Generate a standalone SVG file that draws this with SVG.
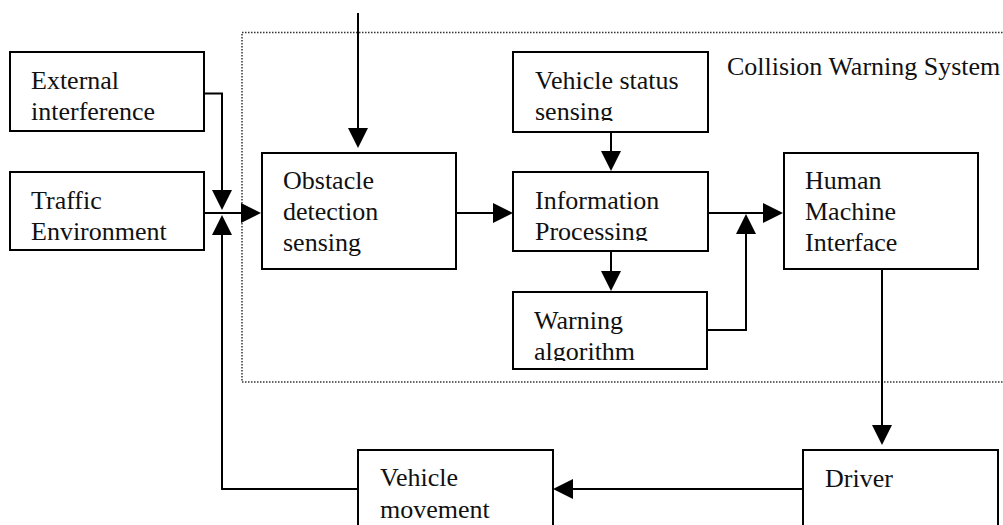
<svg xmlns="http://www.w3.org/2000/svg" width="1003" height="525" viewBox="0 0 1003 525">
<style>
.box{fill:#fff;stroke:#000;stroke-width:2}
.lbl{font-family:"Liberation Serif","Times New Roman",serif;font-size:26px;fill:#111}
.con{fill:none;stroke:#000;stroke-width:2}
.frame{fill:none;stroke:#333;stroke-width:1.5;stroke-dasharray:1.5 1.5}
</style>
<defs>
<marker id="arr" viewBox="0 0 20 20" refX="10" refY="10" markerWidth="20" markerHeight="20" markerUnits="userSpaceOnUse" orient="auto">
<path d="M0 0 L20 10 L0 20 Z" fill="#000"/>
</marker>
<clipPath id="clipVS"><rect x="513" y="52" width="195" height="69"/></clipPath>
<clipPath id="clipIP"><rect x="513" y="172" width="195" height="69"/></clipPath>
<clipPath id="clipWA"><rect x="513" y="292" width="194" height="69"/></clipPath>
</defs>
<rect width="1003" height="525" fill="#fff"/>
<g id="cws-frame">
<rect class="frame" x="242" y="32.5" width="780" height="349.5"/>
<text class="lbl" x="727" y="75">Collision Warning System</text>
</g>
<g id="connectors">
<path class="con" d="M358 13 V138" marker-end="url(#arr)"/>
<path class="con" d="M204 93.5 H222 V200" marker-end="url(#arr)"/>
<path class="con" d="M204 213 H251" marker-end="url(#arr)"/>
<path class="con" d="M358 489 H222 V225" marker-end="url(#arr)"/>
<path class="con" d="M456 213 H503" marker-end="url(#arr)"/>
<path class="con" d="M611 132 V161" marker-end="url(#arr)"/>
<path class="con" d="M611 251 V281" marker-end="url(#arr)"/>
<path class="con" d="M708 213 H773" marker-end="url(#arr)"/>
<path class="con" d="M707 330 H746 V224" marker-end="url(#arr)"/>
<path class="con" d="M882 270 V435" marker-end="url(#arr)"/>
<path class="con" d="M803 489 H563" marker-end="url(#arr)"/>
</g>
<g id="external-interference">
<rect class="box" x="10" y="52" width="194" height="79"/>
<text class="lbl" x="31" y="89">External</text>
<text class="lbl" x="31" y="120">interference</text>
</g>
<g id="traffic-environment">
<rect class="box" x="10" y="172" width="194" height="78"/>
<text class="lbl" x="31" y="209">Traffic</text>
<text class="lbl" x="31" y="240">Environment</text>
</g>
<g id="obstacle-detection">
<rect class="box" x="262" y="153" width="194" height="116"/>
<text class="lbl" x="283" y="189">Obstacle</text>
<text class="lbl" x="283" y="220">detection</text>
<text class="lbl" x="283" y="251">sensing</text>
</g>
<g id="vehicle-status">
<rect class="box" x="513" y="52" width="195" height="80"/>
<g clip-path="url(#clipVS)">
<text class="lbl" x="535" y="89">Vehicle status</text>
<text class="lbl" x="535" y="120">sensing</text>
</g>
</g>
<g id="information-processing">
<rect class="box" x="513" y="172" width="195" height="79"/>
<g clip-path="url(#clipIP)">
<text class="lbl" x="535" y="209">Information</text>
<text class="lbl" x="535" y="240">Processing</text>
</g>
</g>
<g id="warning-algorithm">
<rect class="box" x="513" y="292" width="194" height="77"/>
<g clip-path="url(#clipWA)">
<text class="lbl" x="534" y="329">Warning</text>
<text class="lbl" x="534" y="360">algorithm</text>
</g>
</g>
<g id="hmi">
<rect class="box" x="784" y="153" width="194" height="116"/>
<text class="lbl" x="805" y="189">Human</text>
<text class="lbl" x="805" y="220">Machine</text>
<text class="lbl" x="805" y="251">Interface</text>
</g>
<g id="vehicle-movement">
<rect class="box" x="358" y="450" width="195" height="85"/>
<text class="lbl" x="380" y="486">Vehicle</text>
<text class="lbl" x="380" y="518">movement</text>
</g>
<g id="driver">
<rect class="box" x="803" y="450" width="195" height="85"/>
<text class="lbl" x="825" y="487">Driver</text>
</g>
</svg>
